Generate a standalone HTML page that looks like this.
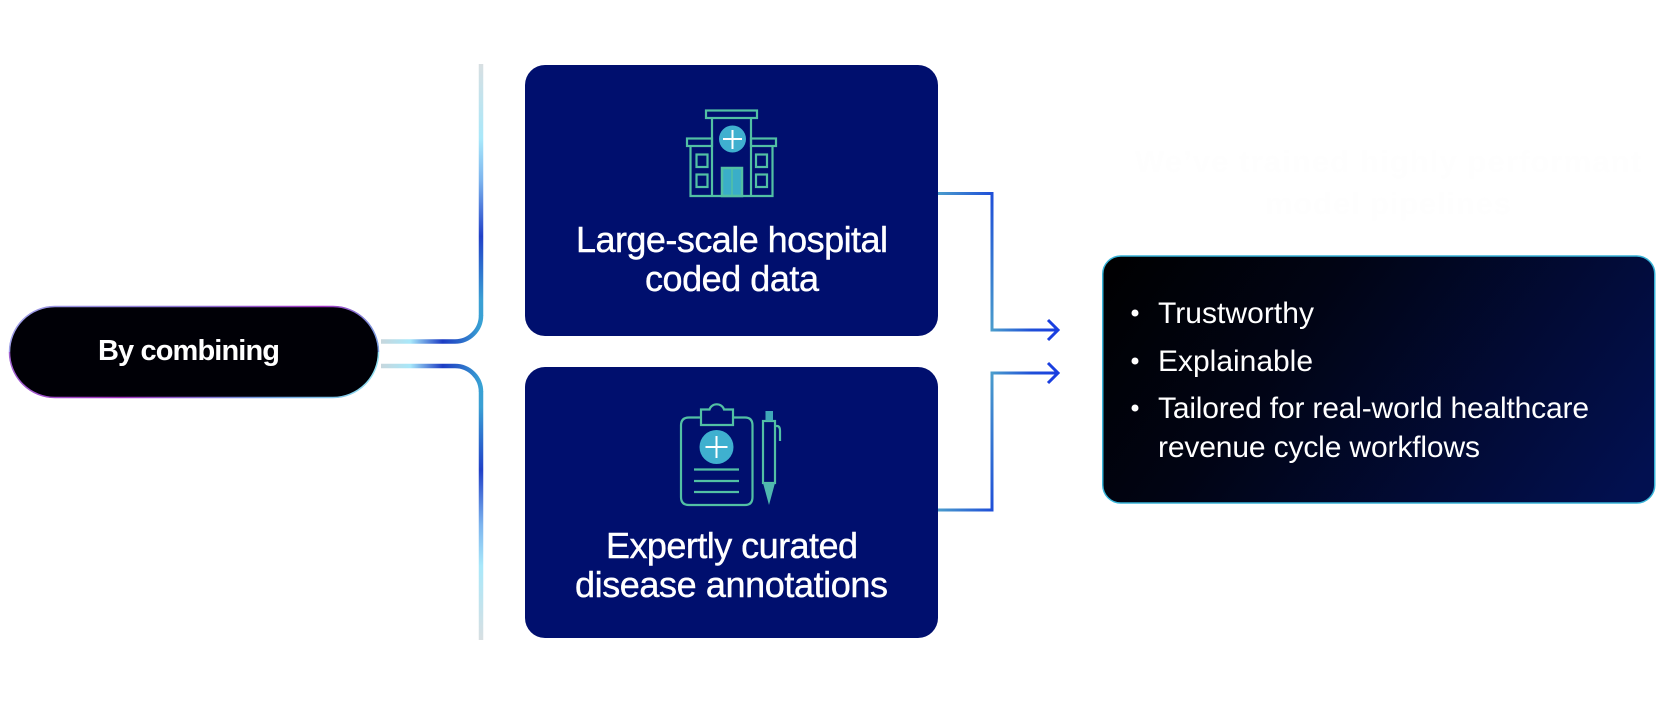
<!DOCTYPE html>
<html><head><meta charset="utf-8"><style>
html,body{margin:0;padding:0;background:#fff;width:1673px;height:703px;overflow:hidden}
svg{display:block}
text{font-family:"Liberation Sans",sans-serif;fill:#fff}
</style></head><body>
<svg width="1673" height="703" viewBox="0 0 1673 703" xmlns="http://www.w3.org/2000/svg">
<defs>
<linearGradient id="h1" gradientUnits="userSpaceOnUse" x1="380" y1="0" x2="481" y2="0"><stop offset="0" stop-color="#c8d6dc"/><stop offset=".3" stop-color="#a8e8fa"/><stop offset=".62" stop-color="#1c3cc4"/><stop offset=".78" stop-color="#2a62c8"/><stop offset="1" stop-color="#38a2d4"/></linearGradient>
<linearGradient id="v1" gradientUnits="userSpaceOnUse" x1="0" y1="64" x2="0" y2="342"><stop offset="0" stop-color="#d8dfe2"/><stop offset=".27" stop-color="#a8e8fa"/><stop offset=".42" stop-color="#7cb4ee"/><stop offset=".62" stop-color="#2040c8"/><stop offset=".85" stop-color="#3aa0d4"/><stop offset="1" stop-color="#38a2d4"/></linearGradient>
<linearGradient id="v2" gradientUnits="userSpaceOnUse" x1="0" y1="366" x2="0" y2="640"><stop offset="0" stop-color="#38a2d4"/><stop offset=".15" stop-color="#3aa0d4"/><stop offset=".38" stop-color="#2040c8"/><stop offset=".58" stop-color="#7cb4ee"/><stop offset=".73" stop-color="#a8e8fa"/><stop offset="1" stop-color="#d8dfe2"/></linearGradient>
<linearGradient id="t1" gradientUnits="userSpaceOnUse" x1="938" y1="0" x2="992" y2="0"><stop offset="0" stop-color="#4a9ccc"/><stop offset="1" stop-color="#1f4fd8"/></linearGradient>
<linearGradient id="t2" gradientUnits="userSpaceOnUse" x1="0" y1="193" x2="0" y2="330"><stop offset="0" stop-color="#1f4fd8"/><stop offset="1" stop-color="#4a9ccc"/></linearGradient>
<linearGradient id="t3" gradientUnits="userSpaceOnUse" x1="992" y1="0" x2="1058" y2="0"><stop offset="0" stop-color="#4a9ccc"/><stop offset=".6" stop-color="#1f4fd8"/><stop offset="1" stop-color="#1a3fe0"/></linearGradient>
<linearGradient id="t4" gradientUnits="userSpaceOnUse" x1="0" y1="373" x2="0" y2="510"><stop offset="0" stop-color="#4a9ccc"/><stop offset="1" stop-color="#1f4fd8"/></linearGradient>
<linearGradient id="pt" gradientUnits="userSpaceOnUse" x1="9" y1="0" x2="379" y2="0"><stop offset="0" stop-color="#a0a0e8"/><stop offset=".5" stop-color="#8a70d0"/><stop offset=".85" stop-color="#a030c0"/><stop offset="1" stop-color="#7aa0e0"/></linearGradient>
<linearGradient id="pb" gradientUnits="userSpaceOnUse" x1="9" y1="0" x2="379" y2="0"><stop offset="0" stop-color="#a060d0"/><stop offset=".3" stop-color="#a030c0"/><stop offset=".7" stop-color="#70a0e0"/><stop offset="1" stop-color="#90e0f0"/></linearGradient>
<linearGradient id="box" gradientUnits="userSpaceOnUse" x1="1102" y1="256" x2="1560" y2="590"><stop offset="0" stop-color="#000000"/><stop offset=".35" stop-color="#010414"/><stop offset="1" stop-color="#021050"/></linearGradient>
</defs>

<!-- faint title -->
<text x="1388" y="172" text-anchor="middle" font-size="31" font-weight="700" style="fill:#fefefe" textLength="506" lengthAdjust="spacing">We’ve trained highly performant</text>
<text x="1388" y="214" text-anchor="middle" font-size="31" font-weight="700" style="fill:#fefefe" textLength="246" lengthAdjust="spacing">model pipelines</text>

<!-- left connectors -->
<path d="M381 341.500H455A26 26 0 0 0 481 315.500" fill="none" stroke="url(#h1)" stroke-width="4.500"/>
<path d="M481 316V64" fill="none" stroke="url(#v1)" stroke-width="4.500"/>
<path d="M381 366H455A26 26 0 0 1 481 392" fill="none" stroke="url(#h1)" stroke-width="4.500"/>
<path d="M481 391.500V640" fill="none" stroke="url(#v2)" stroke-width="4.500"/>

<!-- pill -->
<rect x="9" y="306" width="370" height="92" rx="46" fill="#000006"/>
<path d="M9.500 352A45.500 45.500 0 0 1 55 306.500H333A45.500 45.500 0 0 1 378.500 352" fill="none" stroke="url(#pt)" stroke-width="1.500"/>
<path d="M9.500 352A45.500 45.500 0 0 0 55 397.500H333A45.500 45.500 0 0 0 378.500 352" fill="none" stroke="url(#pb)" stroke-width="1.500"/>
<text x="98" y="360" font-size="29" font-weight="700" textLength="182" lengthAdjust="spacing">By combining</text>

<!-- cards -->
<rect x="525" y="65" width="413" height="271" rx="20" fill="#000f6e"/>
<rect x="525" y="367" width="413" height="271" rx="20" fill="#000f6e"/>

<!-- hospital icon -->
<g fill="none" stroke="#52c0a4" stroke-width="2.200">
<circle cx="732.500" cy="139" r="13.500" fill="#3fb0cf" stroke="none"/>
<rect x="722" y="168" width="20" height="28" fill="#3aaec8" stroke-width="2.500"/>
<line x1="732" y1="168" x2="732" y2="196" stroke-width="1.500"/>
<rect x="706" y="110.500" width="51" height="7.500"/>
<path d="M712 118V196M751 118V196"/>
<rect x="687" y="138.500" width="25" height="7.500"/>
<rect x="751" y="138.500" width="25" height="7.500"/>
<path d="M690.500 146V196H772.500V146"/>
<rect x="696.500" y="154.500" width="11" height="12.500"/>
<rect x="696.500" y="174.500" width="11" height="12.500"/>
<rect x="756" y="154.500" width="11" height="12.500"/>
<rect x="756" y="174.500" width="11" height="12.500"/>
</g>
<path d="M723 139H742M732.500 130V149" stroke="#fff" stroke-width="2"/>

<!-- clipboard icon -->
<g fill="none" stroke="#52c0a4" stroke-width="2.200">
<path d="M701 417.500H689Q681 417.500 681 425.500V497Q681 505 689 505H745Q752.500 505 752.500 497V425.500Q752.500 417.500 745 417.500H733"/>
<path d="M701 425V409.500H709.500A7.500 7 0 0 1 724 409.500H733V425Z"/>
<circle cx="716.500" cy="447" r="17" fill="#3fb0cf" stroke="none"/>
<path d="M694 469.500H739M694 481H739M694 492H739"/>
<rect x="763" y="421" width="12" height="62"/>
<rect x="765.500" y="411" width="7.500" height="9.500" fill="#3fa8b8" stroke="none"/>
<path d="M763 483H775L769 505Z" fill="#4fb8b0" stroke="none"/>
<path d="M775 426H777Q780 426 780 431V441"/>
</g>
<path d="M705.500 447H727.500M716.500 436V458" stroke="#fff" stroke-width="2"/>

<!-- card text -->
<g font-size="36" stroke="#fff" stroke-width=".4">
<text x="576" y="252" textLength="312" lengthAdjust="spacing">Large-scale hospital</text>
<text x="645" y="291" textLength="174" lengthAdjust="spacing">coded data</text>
<text x="606" y="558" textLength="252" lengthAdjust="spacing">Expertly curated</text>
<text x="575" y="597" textLength="313" lengthAdjust="spacing">disease annotations</text>
</g>

<!-- right connectors -->
<g fill="none" stroke-width="3">
<path d="M938 193.500H993.500" stroke="url(#t1)"/>
<path d="M992 192V331.500" stroke="url(#t2)"/>
<path d="M990.500 330H1057" stroke="url(#t3)"/>
<path d="M1048 320L1058 330L1048 340" stroke="#1a3fe0" stroke-width="3"/>
<path d="M990.500 373H1057" stroke="url(#t3)"/>
<path d="M1048 363L1058 373L1048 383" stroke="#1a3fe0" stroke-width="3"/>
<path d="M992 371.500V511.500" stroke="url(#t4)"/>
<path d="M938 510H993.500" stroke="url(#t1)"/>
</g>

<!-- result box -->
<rect x="1102.750" y="256" width="552" height="247" rx="18" fill="url(#box)" stroke="#38b4d8" stroke-width="1.500"/>
<g font-size="30">
<circle cx="1135" cy="313" r="3.500" fill="#fff"/>
<circle cx="1135" cy="361" r="3.500" fill="#fff"/>
<circle cx="1135" cy="408" r="3.500" fill="#fff"/>
<text x="1158" y="323" textLength="156" lengthAdjust="spacing">Trustworthy</text>
<text x="1158" y="371" textLength="155" lengthAdjust="spacing">Explainable</text>
<text x="1158" y="418" textLength="431" lengthAdjust="spacing">Tailored for real-world healthcare</text>
<text x="1158" y="457" textLength="322" lengthAdjust="spacing">revenue cycle workflows</text>
</g>
</svg>
</body></html>
